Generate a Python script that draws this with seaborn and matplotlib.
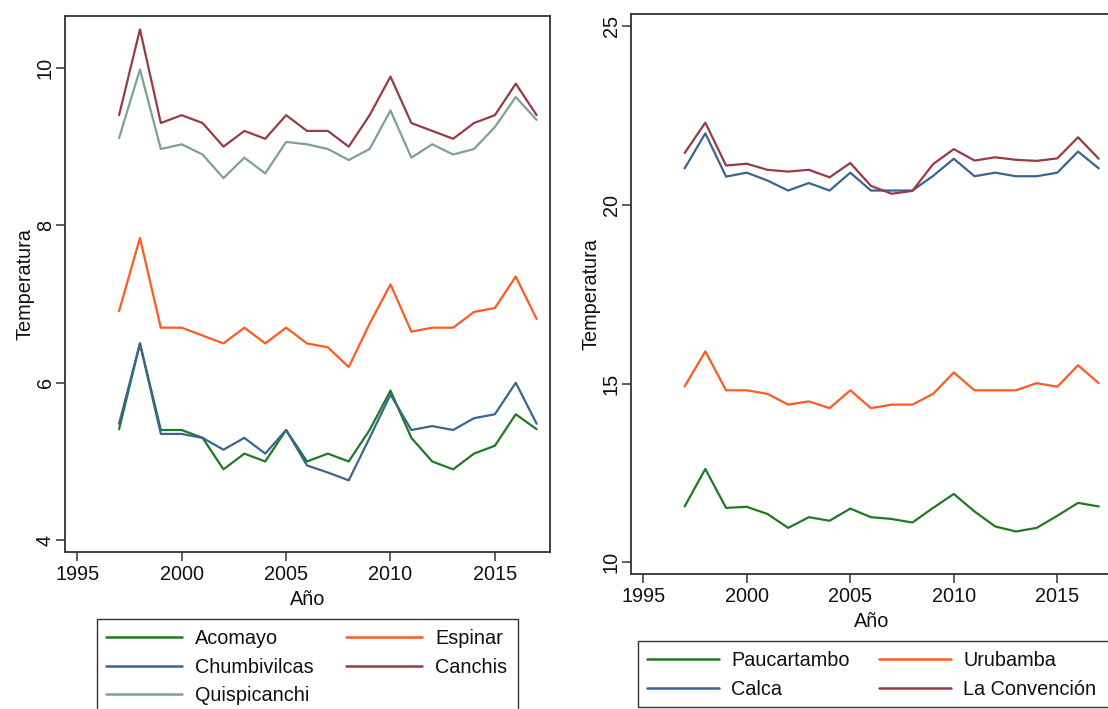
import numpy as np
import pandas as pd
import seaborn as sns
import matplotlib
matplotlib.use("Agg")
import matplotlib.pyplot as plt
from matplotlib.patches import Rectangle

# Years of observation
years = list(range(1997, 2018))

# Mean annual temperature by province (°C) - first panel
acomayo = [5.41, 6.50, 5.40, 5.40, 5.30, 4.90, 5.10, 5.00, 5.40, 5.00, 5.10,
           5.00, 5.40, 5.90, 5.30, 5.00, 4.90, 5.10, 5.20, 5.60, 5.41]
chumbivilcas = [5.48, 6.50, 5.35, 5.35, 5.30, 5.15, 5.30, 5.10, 5.40, 4.95, 4.86,
                4.76, 5.30, 5.85, 5.40, 5.45, 5.40, 5.55, 5.60, 6.00, 5.48]
quispicanchi = [9.11, 9.98, 8.97, 9.03, 8.90, 8.60, 8.86, 8.66, 9.06, 9.03, 8.97,
                8.83, 8.97, 9.46, 8.86, 9.03, 8.90, 8.97, 9.25, 9.63, 9.34]
espinar = [6.91, 7.84, 6.70, 6.70, 6.60, 6.50, 6.70, 6.50, 6.70, 6.50, 6.45,
           6.20, 6.75, 7.25, 6.65, 6.70, 6.70, 6.90, 6.95, 7.35, 6.81]
canchis = [9.40, 10.49, 9.30, 9.40, 9.30, 9.00, 9.20, 9.10, 9.40, 9.20, 9.20,
           9.00, 9.40, 9.89, 9.30, 9.20, 9.10, 9.30, 9.40, 9.80, 9.40]

# Second panel
paucartambo = [11.56, 12.61, 11.52, 11.55, 11.35, 10.96, 11.26, 11.16, 11.50, 11.26, 11.21,
               11.11, 11.52, 11.91, 11.42, 11.00, 10.86, 10.96, 11.30, 11.66, 11.56]
calca = [21.02, 22.00, 20.79, 20.90, 20.68, 20.40, 20.61, 20.40, 20.90, 20.40, 20.40,
         20.40, 20.81, 21.29, 20.80, 20.90, 20.80, 20.80, 20.90, 21.49, 21.02]
urubamba = [14.92, 15.90, 14.81, 14.81, 14.71, 14.41, 14.50, 14.31, 14.81, 14.31, 14.41,
            14.41, 14.71, 15.31, 14.81, 14.81, 14.81, 15.01, 14.91, 15.51, 15.01]
la_convencion = [21.45, 22.30, 21.10, 21.15, 20.98, 20.93, 20.98, 20.77, 21.17, 20.53, 20.31,
                 20.39, 21.14, 21.56, 21.24, 21.33, 21.26, 21.23, 21.30, 21.89, 21.29]

left_series = {"Acomayo": acomayo, "Chumbivilcas": chumbivilcas,
               "Quispicanchi": quispicanchi, "Espinar": espinar, "Canchis": canchis}
right_series = {"Paucartambo": paucartambo, "Calca": calca,
                "Urubamba": urubamba, "La Convención": la_convencion}

left_colors = {"Acomayo": "#1f7a24", "Chumbivilcas": "#3a6590",
               "Quispicanchi": "#7fa095", "Espinar": "#ff5a1f", "Canchis": "#983b45"}
right_colors = {"Paucartambo": "#1f7a24", "Calca": "#3a6590",
                "Urubamba": "#ff5a1f", "La Convención": "#983b45"}

left_xticks = [1995, 2000, 2005, 2010, 2015]
left_yticks = [4, 6, 8, 10]
right_yticks = [10, 15, 20, 25]


def to_long(series):
    rows = []
    for name, vals in series.items():
        for yr, v in zip(years, vals):
            rows.append({"Año": yr, "Temperatura": v, "Provincia": name})
    return pd.DataFrame(rows)


sns.set_theme(style="white")
plt.rcParams["font.family"] = ["Liberation Sans", "DejaVu Sans"]

W, H = 1108, 709
fig = plt.figure(figsize=(W / 100, H / 100), dpi=100)
fig.patch.set_facecolor("white")

spine_col = "#333333"
fs = 14.3


def style_axes(ax, yticks, ylim):
    ax.set_xlim(1994.41, 2017.64)
    ax.set_ylim(*ylim)
    ax.set_xticks(left_xticks)
    ax.set_yticks(yticks)
    for s in ax.spines.values():
        s.set_visible(True)
        s.set_color(spine_col)
        s.set_linewidth(1.3)
    ax.tick_params(axis="both", which="major", direction="out", length=6.5,
                   width=1.1, color=spine_col, labelsize=fs, labelcolor="#111111",
                   bottom=True, left=True, pad=3)
    ax.tick_params(axis="y", pad=0.8)
    for lbl in ax.get_yticklabels():
        lbl.set_rotation(90)
        lbl.set_va("center")
    ax.set_xlabel("Año", fontsize=fs, color="#111111", labelpad=4)
    ax.set_ylabel("Temperatura", fontsize=fs, color="#111111", labelpad=1)
    ax.grid(False)


# Left panel
ax1 = fig.add_axes([65 / W, 1 - 552 / H, 485 / W, 536 / H])
df1 = to_long(left_series)
sns.lineplot(data=df1, x="Año", y="Temperatura", hue="Provincia",
             hue_order=list(left_series), palette=left_colors, linewidth=1.6,
             ax=ax1, legend=False)
style_axes(ax1, left_yticks, (3.85, 10.66))

# Right panel
ax2 = fig.add_axes([631 / W, 1 - 574 / H, 481 / W, 560 / H])
df2 = to_long(right_series)
sns.lineplot(data=df2, x="Año", y="Temperatura", hue="Provincia",
             hue_order=list(right_series), palette=right_colors, linewidth=1.6,
             ax=ax2, legend=False)
style_axes(ax2, right_yticks, (9.67, 25.34))


def add_legend(names, colors, anchor_px, handlelen, textpad, colspace):
    handles = [plt.Line2D([], [], color=colors[n], linewidth=1.8) for n in names]
    leg = fig.legend(handles, names, loc="upper left",
                     bbox_to_anchor=(anchor_px[0] / W, 1 - anchor_px[1] / H),
                     bbox_transform=fig.transFigure, ncol=2, frameon=False,
                     fontsize=fs, handlelength=handlelen, handletextpad=textpad,
                     columnspacing=colspace, labelspacing=0.48, borderpad=0.0,
                     borderaxespad=0.0)
    for t in leg.get_texts():
        t.set_color("#111111")
    return leg


add_legend(list(left_series), left_colors, (106, 629), 3.83, 0.67, 1.6)
add_legend(list(right_series), right_colors, (647, 651), 3.63, 0.6, 1.5)

# Legend frames
fig.patches.append(Rectangle((97 / W, 1 - 720 / H), (518 - 97) / W, (720 - 619) / H,
                             transform=fig.transFigure, fill=False,
                             edgecolor=spine_col, linewidth=1.0, clip_on=False))
fig.patches.append(Rectangle((638 / W, 1 - 706.5 / H), (1130 - 638) / W, (706.5 - 640.7) / H,
                             transform=fig.transFigure, fill=False,
                             edgecolor=spine_col, linewidth=1.0, clip_on=False))

fig.savefig("out.png", dpi=100, facecolor="white")
